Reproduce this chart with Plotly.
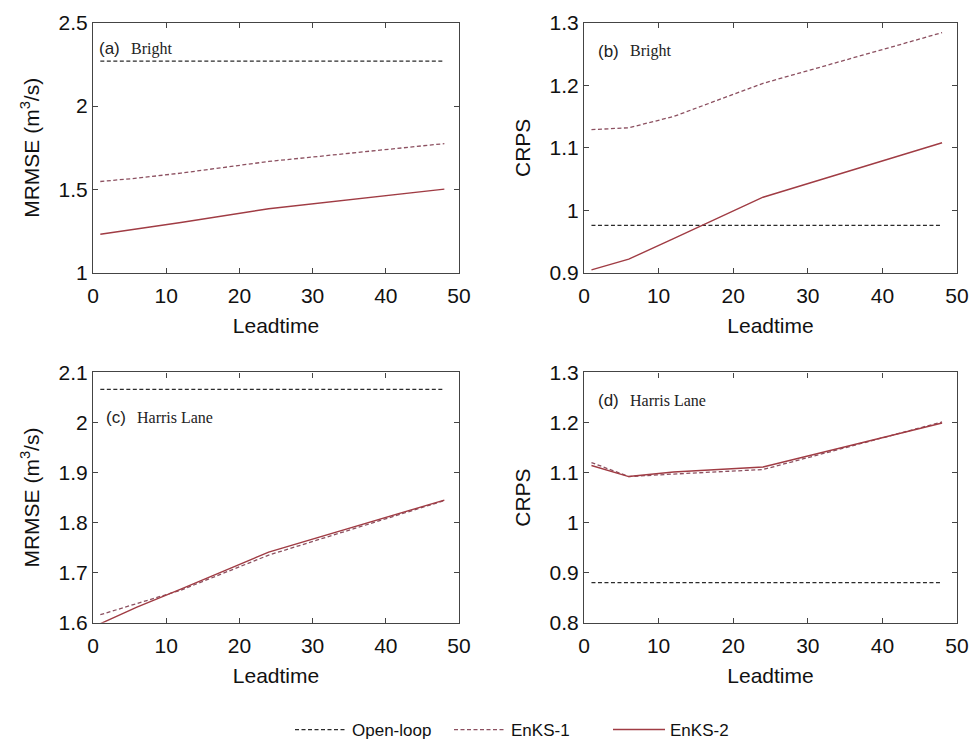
import plotly.graph_objects as go

leadtime = [1, 6, 12, 24, 48]

# (a) Bright MRMSE
a_open = [2.27, 2.27, 2.27, 2.27, 2.27]
a_enks1 = [1.548, 1.568, 1.598, 1.668, 1.775]
a_enks2 = [1.232, 1.264, 1.302, 1.385, 1.502]
# (b) Bright CRPS
b_open = [0.976, 0.976, 0.976, 0.976, 0.976]
b_enks1 = [1.129, 1.132, 1.150, 1.203, 1.284]
b_enks2 = [0.905, 0.922, 0.955, 1.021, 1.108]
# (c) Harris Lane MRMSE
c_open = [2.066, 2.066, 2.066, 2.066, 2.066]
c_enks1 = [1.616, 1.638, 1.665, 1.735, 1.844]
c_enks2 = [1.598, 1.631, 1.667, 1.741, 1.845]
# (d) Harris Lane CRPS
d_open = [0.880, 0.880, 0.880, 0.880, 0.880]
d_enks1 = [1.120, 1.092, 1.097, 1.106, 1.201]
d_enks2 = [1.114, 1.092, 1.101, 1.111, 1.199]

series_names = ["Open-loop", "EnKS-1", "EnKS-2"]
panel_labels = ["(a)", "(b)", "(c)", "(d)"]
station_labels = ["Bright", "Bright", "Harris Lane", "Harris Lane"]
y_titles = ["MRMSE (m<sup>3</sup>/s)", "CRPS", "MRMSE (m<sup>3</sup>/s)", "CRPS"]
y_ranges = [[1, 2.5], [0.9, 1.3], [1.6, 2.1], [0.8, 1.3]]
y_ticks = [[1, 1.5, 2, 2.5], [0.9, 1.0, 1.1, 1.2, 1.3],
           [1.6, 1.7, 1.8, 1.9, 2.0, 2.1], [0.8, 0.9, 1.0, 1.1, 1.2, 1.3]]
y_ticktext = [["1", "1.5", "2", "2.5"], ["0.9", "1", "1.1", "1.2", "1.3"],
              ["1.6", "1.7", "1.8", "1.9", "2", "2.1"], ["0.8", "0.9", "1", "1.1", "1.2", "1.3"]]
panels = [
    (a_open, a_enks1, a_enks2),
    (b_open, b_enks1, b_enks2),
    (c_open, c_enks1, c_enks2),
    (d_open, d_enks1, d_enks2),
]

W, H = 971, 748
x_domains = [[93 / W, 459 / W], [584 / W, 957 / W], [93 / W, 459 / W], [584 / W, 957 / W]]
y_domains = [[1 - 277 / H, 1 - 23 / H], [1 - 277 / H, 1 - 23 / H],
             [1 - 632 / H, 1 - 378 / H], [1 - 632 / H, 1 - 378 / H]]
label_pos = [(0.012, 0.895), (0.032, 0.885), (0.03, 0.82), (0.032, 0.888)]

styles = [
    dict(color="#2b2b2b", width=1.3, dash="4px,2.5px"),
    dict(color="#8c5060", width=1.3, dash="4px,2.5px"),
    dict(color="#a03c44", width=1.4, dash="solid"),
]

fig = go.Figure()
axis_font = dict(family="Liberation Sans, Arial, sans-serif", size=21, color="#111")

for i, data in enumerate(panels):
    xa = "x" if i == 0 else f"x{i+1}"
    ya = "y" if i == 0 else f"y{i+1}"
    for j, vals in enumerate(data):
        fig.add_trace(go.Scatter(
            x=leadtime, y=vals, mode="lines", name=series_names[j],
            line=styles[j], xaxis=xa, yaxis=ya, showlegend=(i == 0),
        ))
    kx = "xaxis" if i == 0 else f"xaxis{i+1}"
    ky = "yaxis" if i == 0 else f"yaxis{i+1}"
    fig.layout[kx] = dict(
        domain=x_domains[i], anchor=ya, range=[0, 50], automargin=False,
        tickvals=[0, 10, 20, 30, 40, 50], ticks="inside", ticklen=5,
        tickcolor="#444", showline=True, linecolor="#444", linewidth=1.2,
        mirror="ticks", showgrid=False, zeroline=False, tickfont=axis_font,
        ticklabelstandoff=4,
        title=dict(text="Leadtime", font=axis_font, standoff=12),
    )
    fig.layout[ky] = dict(
        domain=y_domains[i], anchor=xa, range=y_ranges[i], automargin=False,
        tickvals=y_ticks[i], ticktext=y_ticktext[i], ticks="inside", ticklen=5,
        tickcolor="#444", showline=True, linecolor="#444", linewidth=1.2,
        mirror="ticks", showgrid=False, zeroline=False, tickfont=axis_font,
        title=dict(text=y_titles[i], font=axis_font, standoff=13),
    )
    lx, ly = label_pos[i]
    fig.add_annotation(
        xref=f"{xa} domain", yref=f"{ya} domain", x=lx, y=ly,
        text=panel_labels[i], showarrow=False, xanchor="left", yanchor="middle",
        font=dict(family="Liberation Sans, Arial, sans-serif", size=17, color="#222"),
    )
    fig.add_annotation(
        xref=f"{xa} domain", yref=f"{ya} domain", x=lx + 0.085, y=ly,
        text=station_labels[i], showarrow=False, xanchor="left", yanchor="middle",
        font=dict(family="Liberation Serif, Times New Roman, serif", size=16, color="#222"),
    )

fig.update_layout(
    width=W, height=H, plot_bgcolor="white", paper_bgcolor="white",
    margin=dict(l=0, r=0, t=0, b=0),
    legend=dict(
        orientation="h", x=290 / W, xanchor="left", y=1 - 741 / H, yanchor="middle",
        font=dict(family="Liberation Sans, Arial, sans-serif", size=17, color="#111"),
        entrywidth=92, entrywidthmode="pixels", itemwidth=52,
        bgcolor="rgba(0,0,0,0)",
    ),
)

fig.write_html("out.html")
